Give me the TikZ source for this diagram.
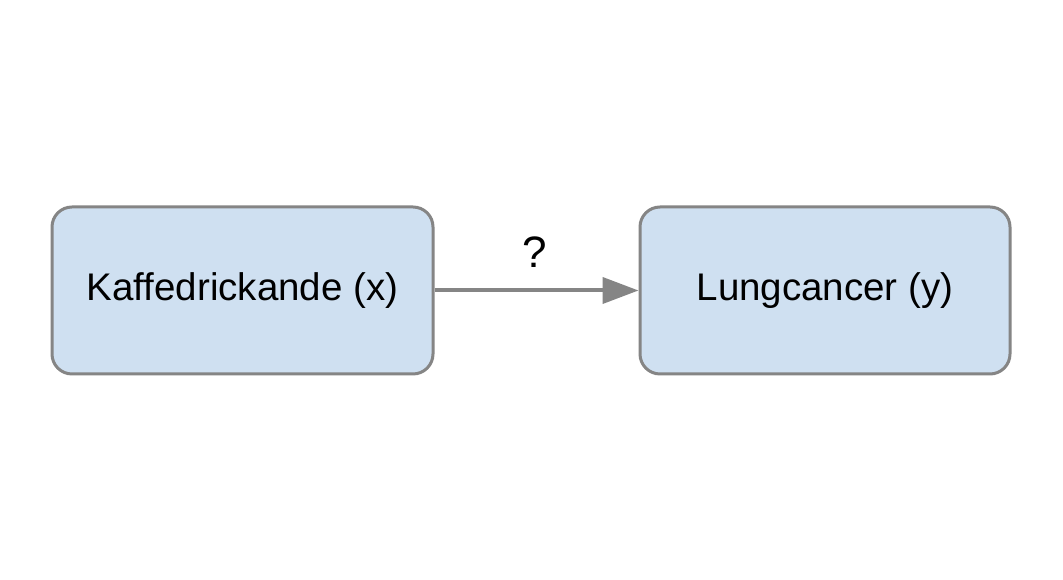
\documentclass[tikz,border=0pt]{standalone}
\usepackage{fontspec}
\setmainfont{Liberation Sans}
\usetikzlibrary{arrows.meta}
\definecolor{boxfill}{HTML}{CFE0F1}
\definecolor{boxline}{HTML}{858585}
\begin{document}
\begin{tikzpicture}[x=1pt,y=1pt,
  box/.style={draw=boxline,line width=3pt,fill=boxfill,rounded corners=20pt,minimum height=167pt,font=\fontsize{38.5}{44}\selectfont,inner sep=0pt},
  conn/.style={draw=boxline,line width=4pt,-{Triangle[length=36pt,width=26pt]}}]
\fill[white] (0,0) rectangle (1063,580);
\useasboundingbox (0,0) rectangle (1063,580);
\node[box,minimum width=381pt] (x) at (242.5,289.5) {Kaffedrickande (x)};
\node[box,minimum width=370pt] (y) at (825,289.5) {Lungcancer (y)};
\draw[conn] (x.east) -- (y.west) node[midway,above=18pt,xshift=-2pt,font=\fontsize{44}{50}\selectfont] (q) {?};
\end{tikzpicture}
\end{document}
